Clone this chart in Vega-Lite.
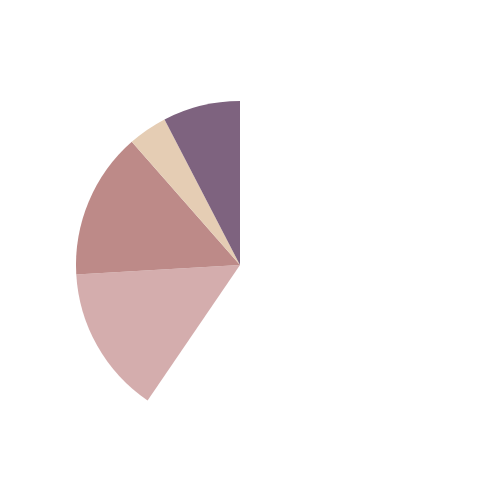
{
  "$schema": "https://vega.github.io/schema/vega-lite/v6.json",
  "width": 480,
  "height": 470,
  "padding": {"left": 0, "top": 30, "right": 0, "bottom": 0},
  "background": "white",
  "view": {"stroke": null},
  "data": {
    "values": [
      {"category": "A", "value": 52.4},
      {"category": "B", "value": 52.0},
      {"category": "C", "value": 13.9},
      {"category": "D", "value": 27.4}
    ]
  },
  "mark": {"type": "arc", "outerRadius": 164},
  "encoding": {
    "theta": {
      "field": "value",
      "type": "quantitative",
      "stack": true,
      "scale": {"range": [3.7402, 6.2832]}
    },
    "order": {"field": "category", "type": "nominal"},
    "color": {
      "field": "category",
      "type": "nominal",
      "legend": null,
      "scale": {
        "domain": ["A", "B", "C", "D"],
        "range": ["#d4adad", "#bd8a88", "#e5cdb4", "#7e637f"]
      }
    }
  }
}
